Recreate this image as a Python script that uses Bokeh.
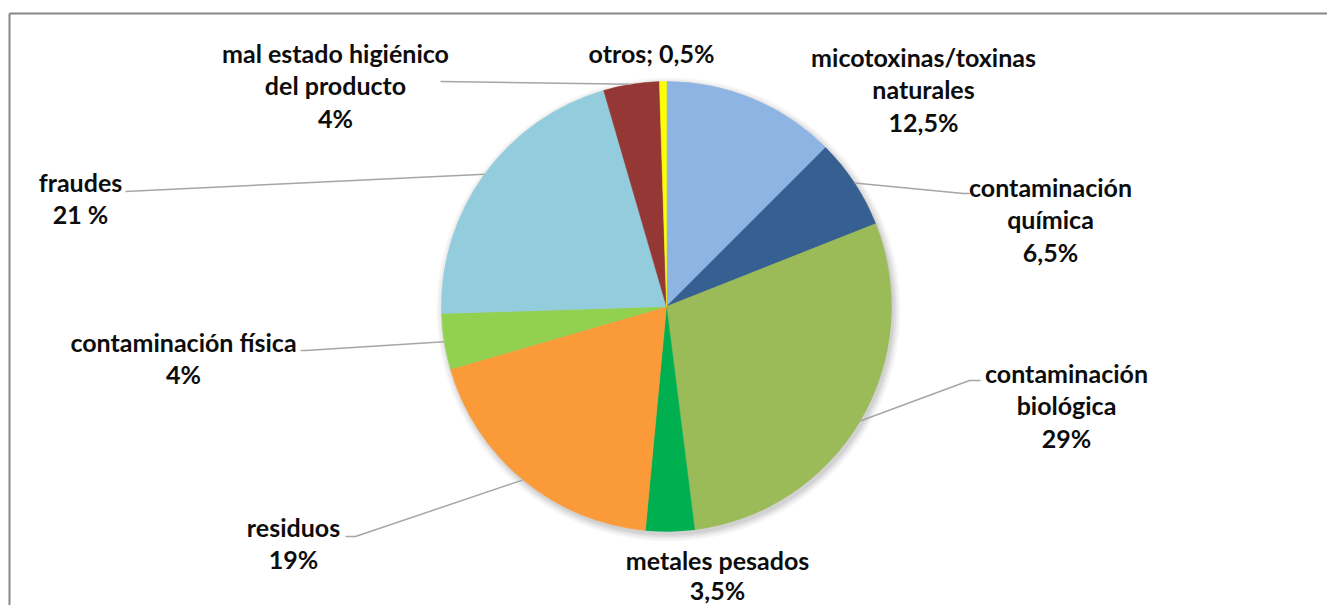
import math
from bokeh.plotting import figure
from bokeh.models import Range1d, ColumnDataSource
from bokeh.embed import file_html
from bokeh.resources import INLINE
from bokeh.core.properties import value

# ---------------- data ----------------
categories = ["micotoxinas/toxinas naturales", "contaminación química",
              "contaminación biológica", "metales pesados", "residuos",
              "contaminación física", "fraudes",
              "mal estado higiénico del producto", "otros"]
values = [12.5, 6.5, 29, 3.5, 19, 4, 21, 4, 0.5]
colors = ["#8EB4E3", "#376092", "#9BBB59", "#00B050", "#FB9A38",
          "#92D050", "#93CDDD", "#953735", "#FFFF00"]
label_lines = [["micotoxinas/toxinas", "naturales", "12,5%"],
               ["contaminación", "química", "6,5%"],
               ["contaminación", "biológica", "29%"],
               ["metales pesados", "3,5%"],
               ["residuos", "19%"],
               ["contaminación física", "4%"],
               ["fraudes", "21 %"],
               ["mal estado higiénico", "del producto", "4%"],
               ["otros; 0,5%"]]

# ---------------- layout (page pixel coords) ----------------
W, H = 1327, 605
CX, CY, R = 666, 306, 225
LINE_H = [32.5, 32.5, 32.5, 30.0, 32.5, 32.5, 32.5, 32.5, 32.5]
label_pos = [(923, 56), (1050, 186), (1066, 372), (717, 559), (293, 526),
             (183, 341), (80, 181), (335, 52), (651, 52)]
# leader anchor points on label side (None = no leader)
leader_anchor = [None, [(963, 193), (969, 193)], [(969, 380), (980, 380)], None,
                 [(355, 536), (345, 536)], [(305, 350), (300, 350)],
                 [(125, 191)], [(440, 81)], None]

p = figure(width=W, height=H, output_backend="svg", toolbar_location=None,
           x_range=Range1d(0, W), y_range=Range1d(-H, 0),
           min_border=0, background_fill_color="white",
           border_fill_color="white", outline_line_color=None)
p.axis.visible = False
p.grid.visible = False

# frame of chart area
p.line([9, 9], [-13, -H], line_color="#878787", line_width=2)
p.line([9, W], [-13, -13], line_color="#878787", line_width=2)

# soft shadow
for k, a in [(7, 0.03), (5, 0.04), (3, 0.05), (1, 0.06)]:
    p.circle(x=[CX + 2], y=[-(CY + 3)], radius=R + k, radius_units="screen",
             fill_color="black", fill_alpha=a, line_color=None)

total = sum(values)
starts, ends, mids = [], [], []
cum = 0.0
for v in values:
    s = cum / total
    e = (cum + v) / total
    starts.append(math.pi / 2 - 2 * math.pi * s)
    ends.append(math.pi / 2 - 2 * math.pi * e)
    mids.append(math.pi / 2 - 2 * math.pi * (s + e) / 2)
    cum += v

src = ColumnDataSource(dict(cat=categories, val=values, color=colors,
                            start=starts, end=ends))
p.wedge(x=CX, y=-CY, radius=R, radius_units="screen", start_angle="start",
        end_angle="end", direction="clock", fill_color="color",
        line_color="color", line_width=0.5, source=src)

# leader lines
for i, anchor in enumerate(leader_anchor):
    if anchor is None:
        continue
    ex = CX + R * math.cos(mids[i])
    ey = -CY + R * math.sin(mids[i])
    xs = [ex] + [a[0] for a in anchor]
    ys = [ey] + [-a[1] for a in anchor]
    p.line(xs, ys, line_color="#A6A6A6", line_width=1.5)

# labels
tx, ty, tt = [], [], []
for (lx, ly), lines, lh in zip(label_pos, label_lines, LINE_H):
    for j, t in enumerate(lines):
        tx.append(lx)
        ty.append(-(ly + j * lh))
        tt.append(t)
p.text(x=tx, y=ty, text=tt, text_font=value("Lato"), text_font_style="bold",
       text_font_size="25px", text_align="center", text_baseline="middle",
       text_color="#0D0D0D")

open("out.html", "w").write(file_html(p, INLINE))
